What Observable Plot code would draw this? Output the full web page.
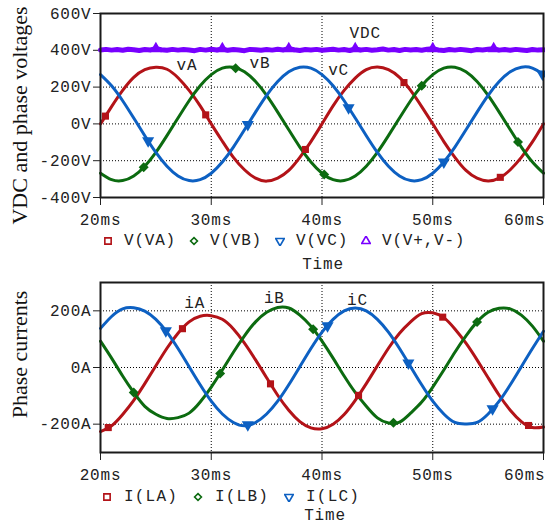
<!DOCTYPE html>
<html>
<head>
<meta charset="utf-8">
<script src="https://cdn.jsdelivr.net/npm/d3@7"></script>
<script src="https://cdn.jsdelivr.net/npm/@observablehq/plot@0.6"></script>
<style>
  body { margin: 0; background: #fff; }
  #wrap { position: relative; width: 545px; height: 524px; overflow: hidden; background: #fff;
          font-family: 'Liberation Mono', 'Courier New', monospace; color: #222; }
  .panel { position: absolute; left: 0; }
  .legend { position: absolute; display: flex; align-items: center; font-size: 16px; line-height: 16px; white-space: nowrap; }
  .legend .item { display: flex; align-items: center; }
  .legend svg { display: block; }
  .tlabel { position: absolute; font-size: 16px; line-height: 16px; letter-spacing: 0.8px; transform: translateX(-50%); white-space: nowrap; }
</style>
</head>
<body>
<div id="wrap">
  <div id="p1" class="panel" style="top:0px"></div>
  <div id="leg1" class="legend" style="top:233px;left:103px;letter-spacing:0.8px"></div>
  <div id="time1" class="tlabel" style="top:257px;left:323px"></div>
  <div id="p2" class="panel" style="top:270px"></div>
  <div id="leg2" class="legend" style="top:489px;left:102px;letter-spacing:1.2px"></div>
  <div id="time2" class="tlabel" style="top:508px;left:325px"></div>
</div>
<script>
// ---------------- data ----------------
const timeMs = [20,21,22,23,24,25,26,27,28,29,30,31,32,33,34,35,36,37,38,39,40,
                41,42,43,44,45,46,47,48,49,50,51,52,53,54,55,56,57,58,59,60];

// phase voltages (V)
const vA = [0,94,182,253,295,308,297,251,182,98,0,-94,-182,-249,-295,-311,-295,-253,-182,-96,0,
            98,182,249,295,309,295,253,182,94,0,-96,-182,-253,-295,-310,-295,-249,-182,-98,0];
const vB = [-268,-303,-308,-283,-230,-155,-64,32,126,207,268,303,308,283,230,155,64,-32,-126,-207,-268,
            -303,-308,-283,-230,-155,-64,32,126,207,268,303,308,283,230,155,64,-32,-126,-207,-268];
const vC = [268,207,126,32,-64,-155,-230,-283,-308,-303,-268,-207,-126,-32,64,155,230,283,308,303,268,
            207,126,32,-64,-155,-230,-283,-308,-303,-268,-207,-126,-32,64,155,230,283,308,303,268];

// DC link voltage (V), sampled every 0.5 ms
const vdcTime = [20,20.5,21,21.5,22,22.5,23,23.5,24,24.5,25,25.5,26,26.5,27,27.5,28,28.5,29,29.5,
                 30,30.5,31,31.5,32,32.5,33,33.5,34,34.5,35,35.5,36,36.5,37,37.5,38,38.5,39,39.5,
                 40,40.5,41,41.5,42,42.5,43,43.5,44,44.5,45,45.5,46,46.5,47,47.5,48,48.5,49,49.5,
                 50,50.5,51,51.5,52,52.5,53,53.5,54,54.5,55,55.5,56,56.5,57,57.5,58,58.5,59,59.5,60];
const vdc = [402,405,401,404,400,406,403,399,404,402,409,403,400,405,401,404,402,398,405,401,
             406,402,408,400,404,402,398,405,403,400,404,401,406,402,409,403,399,404,402,405,
             400,403,406,401,404,399,408,402,405,400,403,407,401,404,399,405,402,404,400,406,
             409,402,399,404,401,405,402,398,404,402,406,409,401,404,400,405,402,399,404,401,403];

// phase currents (A)
const iA = [-226,-206,-166,-116,-57,6,68,121,161,181,183,170,136,86,27,-36,-98,-151,-191,-213,-216,
            -200,-166,-116,-57,6,68,121,161,190,193,176,136,86,27,-36,-98,-151,-191,-212,-210];
const iB = [93,33,-30,-88,-137,-165,-180,-177,-161,-122,-69,-9,54,112,161,195,212,210,185,146,93,
            33,-30,-88,-137,-178,-196,-193,-161,-122,-69,-9,54,112,161,195,209,207,185,146,93];
const iC = [138,180,207,211,199,170,125,67,3,-61,-119,-164,-194,-206,-194,-164,-119,-61,3,67,125,
            170,200,210,200,170,125,67,3,-61,-119,-164,-194,-199,-194,-164,-119,-61,3,67,128];

// marker times along each trace (ms)
const vAMarks = [20.45, 29.5, 38.5, 47.4, 56.1];
const vBMarks = [23.9, 32.2, 40.2, 49.0, 57.7];
const vCMarks = [24.3, 33.3, 42.4, 51.0, 59.9];
const vdcMarks = [25.0, 31.0, 37.0, 43.0, 50.0, 55.5];
const iAMarks = [20.7, 27.4, 35.35, 43.3, 50.9, 58.65];
const iBMarks = [23.0, 30.8, 39.2, 46.45, 54.0];
const iCMarks = [25.9, 33.3, 40.5, 47.8, 55.4];

// annotations
const vLabels = ["vA", "vB", "vC", "VDC"];
const vLabelT = [27.8, 34.4, 41.5, 43.9];
const vLabelV = [322, 332, 294, 496];
const iLabels = ["iA", "iB", "iC"];
const iLabelT = [28.5, 35.7, 43.2];
const iLabelV = [229, 247, 240];

// axes and legends
const timeTicks = [20, 30, 40, 50, 60];
const voltTicks = [-400, -200, 0, 200, 400, 600];
const ampTicks = [-200, 0, 200];
const vTitle = "VDC and phase voltages";
const iTitle = "Phase currents";
const xTitle = "Time";
const vLegend = ["V(VA)", "V(VB)", "V(VC)", "V(V+,V-)"];
const iLegend = ["I(LA)", "I(LB)", "I(LC)"];

// ---------------- styling ----------------
const RED = "#b31318", GREEN = "#0c6b10", BLUE = "#0d60c2", PURPLE = "#7800ff";

const rows = (t, v) => t.map((x, i) => ({t: x, v: v[i]}));
const marksAt = (times, t, v) => {
  const f = d3.scaleLinear().domain(t).range(v);
  return times.map(x => ({t: x, v: f(x)}));
};

const svgStyle = "font-family:'Liberation Mono','Courier New',monospace;font-size:16px;letter-spacing:0.8px;color:#222;background:#fff;overflow:visible;";

function panel({height, marginTop, marginBottom, yDomain, yTicks, unit, series, labels, title, titleDy}) {
  const marks = [
    Plot.gridX(timeTicks, {stroke: "#000", strokeOpacity: 1, strokeWidth: 1, strokeDasharray: "1,2"}),
    Plot.gridY(yTicks, {stroke: "#000", strokeOpacity: 1, strokeWidth: 1, strokeDasharray: "1,2"}),
  ];
  for (const s of series) {
    marks.push(Plot.line(s.data, {x: "t", y: "v", stroke: s.color, strokeWidth: s.width, curve: s.curve}));
  }
  for (const s of series) {
    marks.push(Plot.dot(s.marks, {x: "t", y: "v", symbol: s.symbol, fill: s.color, r: s.r, rotate: s.rotate || 0}));
  }
  marks.push(Plot.text(labels.text, {x: labels.t, y: labels.v, text: d => d, fill: "#222", fontSize: 16}));
  marks.push(Plot.text([title], {frameAnchor: "left", textAnchor: "middle", lineAnchor: "middle", rotate: -90,
                                 dx: -81, dy: titleDy, text: d => d,
                                 fontFamily: "Liberation Serif", fontSize: 22, fill: "#111"}));
  marks.push(Plot.frame({stroke: "#1a1a1a", strokeWidth: 2}));
  return Plot.plot({
    width: 545, height, marginTop, marginBottom, marginLeft: 100, marginRight: 2,
    style: svgStyle,
    x: {domain: [20, 60], ticks: timeTicks, tickFormat: d => d + "ms", tickSize: 8, tickPadding: 8, label: null},
    y: {domain: yDomain, ticks: yTicks, tickFormat: d => d + unit, tickSize: 7, tickPadding: 2, label: null},
    marks
  });
}

const p1 = panel({
  height: 270, marginTop: 13, marginBottom: 73, yDomain: [-400, 600], yTicks: voltTicks, unit: "V",
  series: [
    {data: rows(timeMs, vA), marks: marksAt(vAMarks, timeMs, vA), color: RED, width: 3, curve: "natural", symbol: "square", r: 4},
    {data: rows(timeMs, vB), marks: marksAt(vBMarks, timeMs, vB), color: GREEN, width: 3, curve: "natural", symbol: "diamond2", r: 4.5},
    {data: rows(timeMs, vC), marks: marksAt(vCMarks, timeMs, vC), color: BLUE, width: 3, curve: "natural", symbol: "triangle", r: 4.5, rotate: 180},
    {data: rows(vdcTime, vdc), marks: marksAt(vdcMarks, vdcTime, vdc), color: PURPLE, width: 5, curve: "linear", symbol: "triangle", r: 4.5}
  ],
  labels: {text: vLabels, t: vLabelT, v: vLabelV},
  title: vTitle, titleDy: 10
});

const p2 = panel({
  height: 254, marginTop: 12, marginBottom: 72, yDomain: [-300, 300], yTicks: ampTicks, unit: "A",
  series: [
    {data: rows(timeMs, iA), marks: marksAt(iAMarks, timeMs, iA), color: RED, width: 3, curve: "natural", symbol: "square", r: 4},
    {data: rows(timeMs, iB), marks: marksAt(iBMarks, timeMs, iB), color: GREEN, width: 3, curve: "natural", symbol: "diamond2", r: 4.5},
    {data: rows(timeMs, iC), marks: marksAt(iCMarks, timeMs, iC), color: BLUE, width: 3, curve: "natural", symbol: "triangle", r: 4.5, rotate: 180}
  ],
  labels: {text: iLabels, t: iLabelT, v: iLabelV},
  title: iTitle, titleDy: -13
});

for (const svg of [p1, p2]) {
  const s = d3.select(svg);
  s.selectAll("g[font-family='Liberation Serif'] text").style("letter-spacing", "0px");
  // keep the last time label inside the window, as in the reference
  const xt = s.selectAll("g[aria-label='x-axis tick label'] text").nodes();
  if (xt.length) {
    const last = d3.select(xt[xt.length - 1]);
    last.attr("text-anchor", "end").attr("dx", 2);
  }
}
document.getElementById("p1").appendChild(p1);
document.getElementById("p2").appendChild(p2);

// legends
function legend(el, labels, specs, gap, textGap) {
  const box = d3.select(el);
  labels.forEach((lab, i) => {
    const sp = specs[i];
    const item = box.append("div").attr("class", "item").style("margin-right", gap + "px");
    const s = item.append("svg").attr("width", 10).attr("height", 10);
    s.append("path")
      .attr("d", d3.symbol().type(sp.type).size(sp.size)())
      .attr("transform", `translate(5,5) rotate(${sp.rotate || 0})`)
      .attr("fill", "#fff").attr("stroke", sp.color).attr("stroke-width", 1.6);
    item.append("span").style("margin-left", textGap + "px").text(lab);
  });
}
const symSpecs = [
  {type: d3.symbolSquare, size: 40, color: RED},
  {type: d3.symbolDiamond2, size: 30, color: GREEN},
  {type: d3.symbolTriangle, size: 32, color: BLUE, rotate: 180},
  {type: d3.symbolTriangle, size: 32, color: PURPLE}
];
legend(document.getElementById("leg1"), vLegend, symSpecs, 13, 11);
legend(document.getElementById("leg2"), iLegend, symSpecs, 15, 12);
document.getElementById("time1").textContent = xTitle;
document.getElementById("time2").textContent = xTitle;
</script>
</body>
</html>
